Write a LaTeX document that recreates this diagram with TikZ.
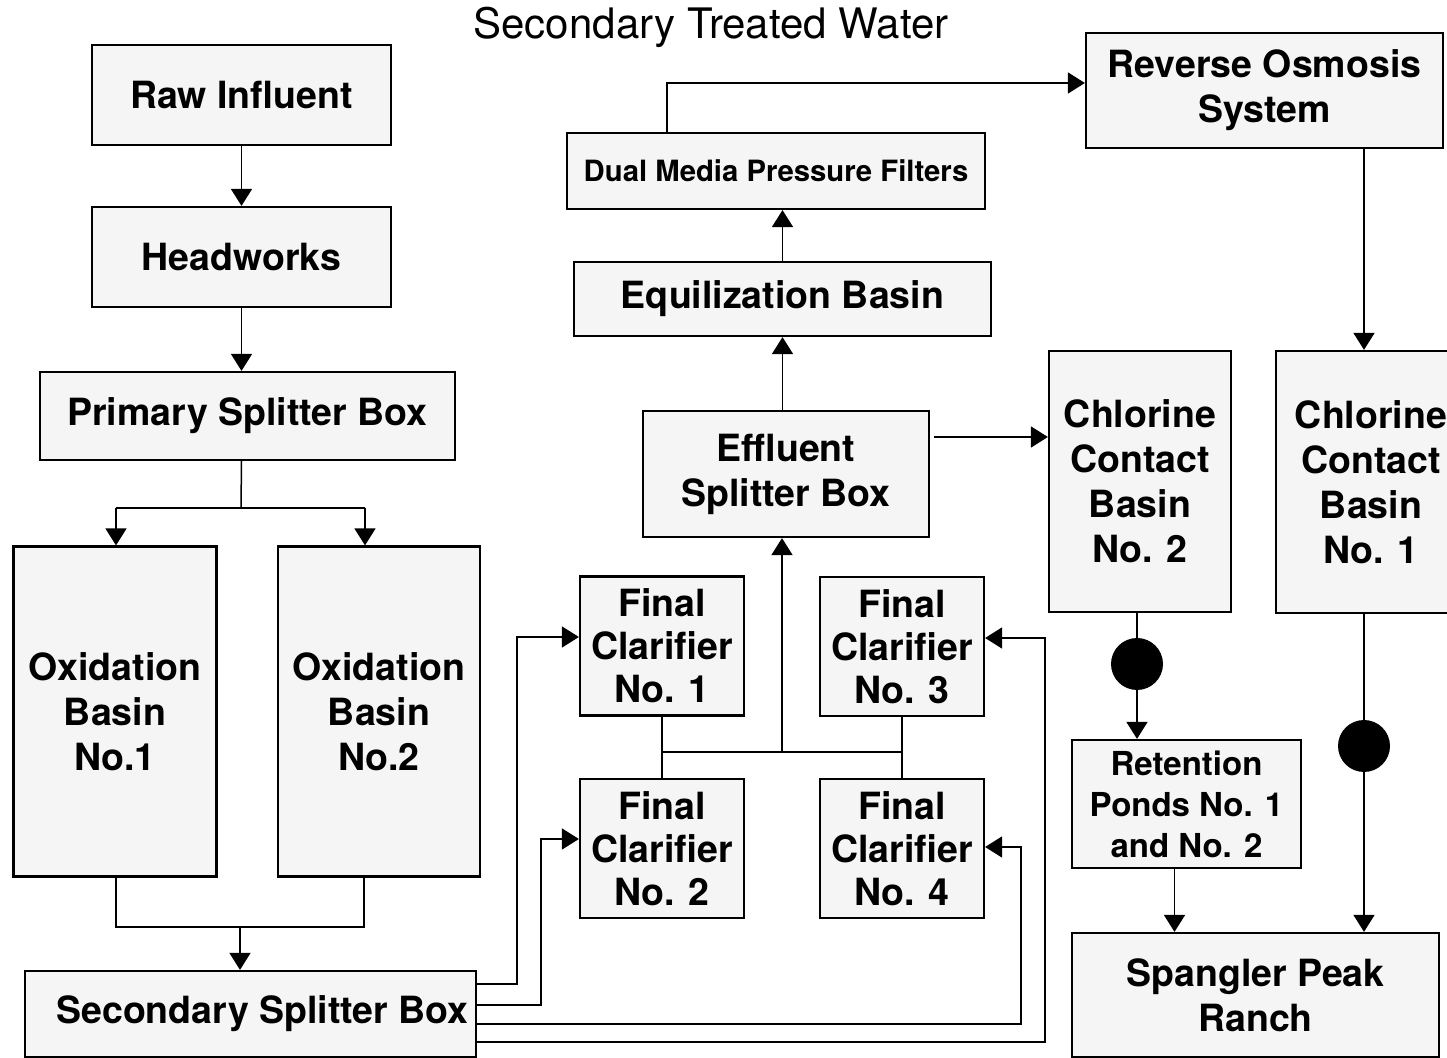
\documentclass[tikz,border=0pt]{standalone}
\usepackage{fontspec}
\setmainfont{TeX Gyre Heros}
\usetikzlibrary{arrows.meta}

\begin{document}
\begin{tikzpicture}[x=0.5pt,y=-0.5pt]
  \tikzstyle{blk}=[draw,line width=1.1pt,fill=black!4,inner sep=0pt,align=center,
    font=\fontsize{18.75}{22.5}\selectfont\bfseries]
  \tikzstyle{dot}=[circle,fill=black,minimum size=26pt,inner sep=0pt]
  \tikzstyle{w}=[line width=0.75pt]
  \tikzstyle{f}=[-{Triangle[length=8.5pt,width=10.5pt]},line width=0.75pt]

  \useasboundingbox (0,0) rectangle (1447,1058);

  \node[font=\fontsize{21}{25}\selectfont] (title) at (711,27) {Secondary Treated Water};

  % left column
  \node[blk,minimum width=149.5pt,minimum height=50pt] (raw) at (241.5,95) {Raw Influent};
  \node[blk,minimum width=149.5pt,minimum height=50pt] (head) at (241.5,257) {Headworks};
  \node[blk,minimum width=207.5pt,minimum height=44pt] (psb) at (247.5,416) {Primary Splitter Box};
  \node[blk,minimum width=101.5pt,minimum height=165pt] (ob1) at (115,711.5) {Oxidation\\Basin\\No.1};
  \node[blk,minimum width=101pt,minimum height=165pt] (ob2) at (379,711.5) {Oxidation\\Basin\\No.2};
  \node[blk,minimum width=225.5pt,minimum height=43pt] (ssb) at (250.5,1014) {\hspace*{12pt}Secondary Splitter Box};

  % clarifiers
  \tikzstyle{fc}=[blk,minimum width=82pt,minimum height=69.5pt,
    font=\fontsize{18.75}{21.5}\selectfont\bfseries]
  \node[fc] (fc1) at (662,646) {Final\\Clarifier\\No. 1};
  \node[fc] (fc2) at (662,848.5) {Final\\Clarifier\\No. 2};
  \node[fc] (fc3) at (902,646.5) {Final\\Clarifier\\No. 3};
  \node[fc] (fc4) at (902,848.5) {Final\\Clarifier\\No. 4};

  % middle column
  \node[blk,minimum width=143pt,minimum height=63pt] (esb) at (786,474) {Effluent\\Splitter Box};
  \node[blk,minimum width=208.5pt,minimum height=37pt] (eq) at (782.5,299) {Equilization Basin};
  \node[blk,minimum width=209pt,minimum height=38pt,
    font=\fontsize{14.65}{17}\selectfont\bfseries] (dmf) at (776,171) {Dual Media Pressure Filters};

  % right column
  \node[blk,minimum width=178.5pt,minimum height=57.5pt] (ro) at (1264.5,90.5) {Reverse Osmosis\\System};
  \node[blk,minimum width=91pt,minimum height=130.5pt] (ccb2) at (1140,481.5) {Chlorine\\Contact\\Basin\\No. 2};
  \node[blk,minimum width=95pt,minimum height=131pt] (ccb1) at (1371,482) {Chlorine\\Contact\\Basin\\No. 1};
  \node[blk,minimum width=114.5pt,minimum height=64pt,
    font=\fontsize{16.5}{20.5}\selectfont\bfseries] (ret) at (1186.5,804) {Retention\\Ponds No. 1\\and No. 2};
  \node[blk,minimum width=183.5pt,minimum height=62pt] (spr) at (1255.5,995) {Spangler Peak\\Ranch};
  \node[dot] (cl2) at (1137,664) {};
  \node[dot] (cl1) at (1364,746) {};

  % junction points
  \coordinate (ps) at (241,508);
  \coordinate (j1) at (116,508);
  \coordinate (j2) at (365,508);
  \coordinate (j3) at (116,927);
  \coordinate (j4) at (364,927);
  \coordinate (j5) at (240,927);
  \coordinate (c1a) at (517,984);   \coordinate (c1b) at (517,637);
  \coordinate (c2a) at (541,1005);  \coordinate (c2b) at (541,839);
  \coordinate (c3a) at (1021,1024); \coordinate (c3b) at (1021,847);
  \coordinate (c4a) at (1045,1042); \coordinate (c4b) at (1045,638);
  \coordinate (m) at (782,752);
  \coordinate (t) at (667,83);
  \coordinate (e) at (934,437);

  \draw[f] (raw) -- (head);
  \draw[f] (head.south) -- (head.south |- psb.north);
  \draw[w] (head.south |- psb.south) -- (ps);
  \draw[w] (j1) -- (j2);
  \draw[f] (j1) -- (j1 |- ob1.north);
  \draw[f] (j2) -- (j2 |- ob2.north);
  \draw[w] (j3 |- ob1.south) -- (j3) -- (j4) -- (j4 |- ob2.south);
  \draw[f] (j5) -- (j5 |- ssb.north);

  \draw[f] (ssb.east |- c1a) -- (c1a) -- (c1b) -- (fc1.west |- c1b);
  \draw[f] (ssb.east |- c2a) -- (c2a) -- (c2b) -- (fc2.west |- c2b);
  \draw[f] (ssb.east |- c3a) -- (c3a) -- (c3b) -- (fc4.east |- c3b);
  \draw[f] (ssb.east |- c4a) -- (c4a) -- (c4b) -- (fc3.east |- c4b);

  \draw[w] (fc1.south) -- (fc2.north);
  \draw[w] (fc3.south) -- (fc4.north);
  \draw[w] (fc1.south |- m) -- (fc3.south |- m);
  \draw[f] (m) -- (m |- esb.south);
  \draw[f] (esb.north -| eq.south) -- (eq.south);
  \draw[f] (eq.north) -- (eq.north |- dmf.south);
  \draw[f] (dmf.north -| t) -- (t) -- (t -| ro.west);

  \draw[f] (e) -- (e -| ccb2.west);
  \draw[f] (ro.south -| cl1) -- (ccb1.north -| cl1);
  \draw[w] (ccb2.south -| cl2) -- (cl2);
  \draw[f] (cl2) -- (cl2 |- ret.north);
  \draw[w] (ccb1.south -| cl1) -- (cl1);
  \draw[f] (cl1) -- (cl1 |- spr.north);
  \draw[f] ([xshift=-6pt]ret.south) -- ([xshift=-6pt]ret.south |- spr.north);
\end{tikzpicture}
\end{document}
